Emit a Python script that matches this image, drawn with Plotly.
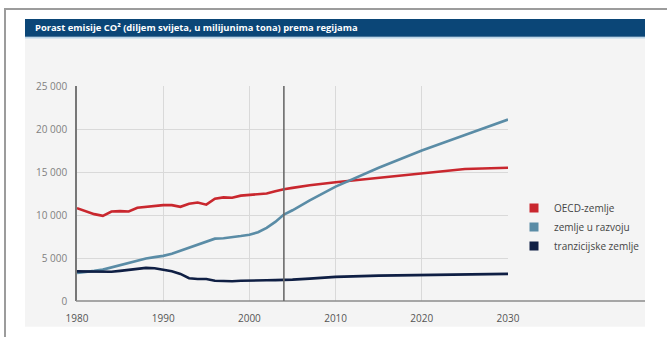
import plotly.graph_objects as go

# --- data -------------------------------------------------------------------
years_hist = list(range(1980, 2005))
years_proj = [2005, 2007, 2010, 2015, 2020, 2025, 2030]
years = years_hist + years_proj

oecd = [10800, 10450, 10100, 9900, 10400, 10450, 10400, 10850, 10950, 11100,
        11150, 11150, 10950, 11300, 11450, 11200, 11900, 12050, 12000, 12250,
        12350, 12450, 12500, 12750, 13000,
        13150, 13450, 13800, 14300, 14800, 15350, 15500]

razvoj = [3250, 3350, 3500, 3650, 3900, 4150, 4400, 4650, 4950, 5100,
          5250, 5500, 5850, 6200, 6500, 6850, 7250, 7300, 7400, 7550,
          7700, 8000, 8500, 9200, 10050,
          10550, 11700, 13300, 15500, 17500, 19300, 21100]

tranzicija = [3450, 3450, 3450, 3450, 3400, 3500, 3600, 3750, 3850, 3800,
              3600, 3450, 3150, 2650, 2550, 2550, 2350, 2300, 2300, 2350,
              2400, 2400, 2420, 2430, 2450,
              2480, 2600, 2800, 2950, 3000, 3050, 3150]

series_names = ["OECD-zemlje", "zemlje u razvoju", "tranzicijske zemlje"]
series_values = [oecd, razvoj, tranzicija]
series_colors = ["#c9272e", "#5a8ca6", "#0f1f44"]

title_text = "Porast emisije CO² (diljem svijeta, u milijunima tona) prema regijama"
current_year = 2004
x_ticks = [1980, 1990, 2000, 2010, 2020, 2030]
y_ticks = [0, 5000, 10000, 15000, 20000, 25000]

# --- layout geometry (pixels) -------------------------------------------------
W, H = 667, 337
L, R, T, B = 77, 508, 86, 304
PW, PH = R - L, B - T


def px(x):
    return (x - L) / PW


def py(y):
    return (B - y) / PH


FONT = "Open Sans, Liberation Sans, Arial, sans-serif"

fig = go.Figure()

for name, vals, col in zip(series_names, series_values, series_colors):
    fig.add_trace(go.Scatter(
        x=years, y=vals, mode="lines", name=name, showlegend=False,
        line=dict(color=col, width=2.6), hoverinfo="skip",
    ))

# legend entries drawn as square swatches
for name, col in zip(series_names, series_colors):
    fig.add_trace(go.Scatter(
        x=[None], y=[None], mode="markers", name=name,
        marker=dict(symbol="square", size=9, color=col),
    ))

shapes = [
    # outer frame
    dict(type="rect", xref="paper", yref="paper", layer="below",
         x0=px(5), x1=px(720), y0=py(420), y1=py(8),
         line=dict(color="#9c9c9c", width=2), fillcolor="rgba(0,0,0,0)"),
    # light panel
    dict(type="rect", xref="paper", yref="paper", layer="below",
         x0=px(25), x1=px(645), y0=py(330), y1=py(37),
         line=dict(width=0), fillcolor="#f4f4f4"),
    # title bar
    dict(type="rect", xref="paper", yref="paper", layer="below",
         x0=px(25), x1=px(645), y0=py(36), y1=py(18),
         line=dict(width=0), fillcolor="#0b4677"),
    dict(type="line", xref="paper", yref="paper", layer="below",
         x0=px(25), x1=px(645), y0=py(37), y1=py(37),
         line=dict(color="#bcd5e8", width=1.5)),
    # baseline running out under the legend
    dict(type="line", xref="paper", yref="paper", layer="above",
         x0=px(76), x1=px(645), y0=0, y1=0,
         line=dict(color="#8c8c8c", width=1.6)),
    # current-year marker
    dict(type="line", xref="x", yref="y", layer="above",
         x0=current_year, x1=current_year, y0=0, y1=25000,
         line=dict(color="#6a6a6a", width=1.6)),
]

fig.update_layout(
    width=W, height=H,
    margin=dict(l=L, r=W - R, t=T, b=H - B, pad=0),
    paper_bgcolor="white",
    plot_bgcolor="rgba(0,0,0,0)",
    separators=", ",
    font=dict(family=FONT, size=10, color="#555555"),
    shapes=shapes,
    showlegend=True,
    legend=dict(
        x=px(514), y=py(195), xanchor="left", yanchor="top",
        bgcolor="rgba(0,0,0,0)", borderwidth=0,
        font=dict(family=FONT, size=10, color="#444444"),
        itemwidth=30, tracegroupgap=0,
    ),
    annotations=[dict(
        text="<b>" + title_text + "</b>", xref="paper", yref="paper",
        x=px(33), y=py(27), xanchor="left", yanchor="middle", showarrow=False,
        font=dict(family=FONT, size=9.4, color="white"),
    )],
    xaxis=dict(
        range=[1980, 2030], tickvals=x_ticks, ticks="", showline=False,
        showgrid=True, gridcolor="#d9d9d9", gridwidth=1, zeroline=False,
        tickfont=dict(size=10, color="#555555"), ticklabelstandoff=10,
        fixedrange=True,
    ),
    yaxis=dict(
        range=[0, 25000], tickvals=y_ticks, tickformat=",d", ticks="",
        showline=True, linecolor="#777777", linewidth=1.5,
        showgrid=True, gridcolor="#d9d9d9", gridwidth=1, zeroline=False,
        tickfont=dict(size=10, color="#808080"), ticklabelstandoff=6,
        fixedrange=True,
    ),
)

fig.write_html("out.html")
